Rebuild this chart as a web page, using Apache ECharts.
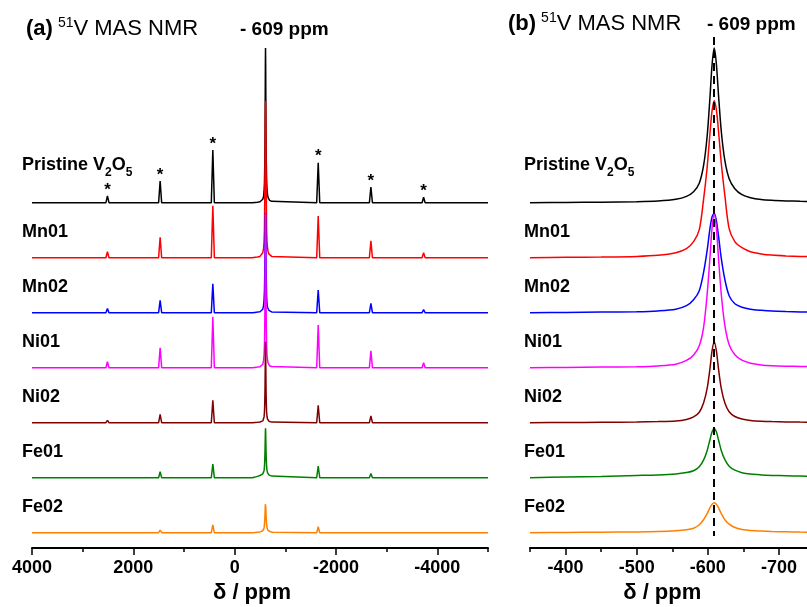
<!DOCTYPE html>
<html>
<head>
<meta charset="utf-8">
<script src="https://cdn.jsdelivr.net/npm/echarts@6/dist/echarts.min.js"></script>
<style>
  html, body { margin: 0; padding: 0; background: #fff; }
  #chart { width: 807px; height: 607px; }
</style>
</head>
<body>
<div id="chart"></div>
<script>
// samples, top to bottom
const samples = ['Pristine V2O5', 'Mn01', 'Mn02', 'Ni01', 'Ni02', 'Fe01', 'Fe02'];
const colors = ['#000000', '#ff0000', '#0000ff', '#ff00ff', '#800000', '#008000', '#ff8000'];

// isotropic peak (ppm)
const peakPpm = -609;

// panel (b): line shape around the isotropic peak (intensity above baseline)
const ppmB = [-350, -400, -450, -500, -530, -555, -570, -580, -588, -594, -599, -603, -606, -609,
  -612, -615, -619, -624, -630, -638, -648, -660, -675, -690, -710, -730, -750];
const pristineB = [0, 0.3, 0.5, 1, 1.7, 3.4, 6.3, 11, 19.5, 37, 66, 105, 138, 154.7, 139, 108, 71, 42, 24, 14, 8, 5, 3.2, 2.4, 1.8, 1.4, 1.2];
const mn01B = [0, 0.4, 0.7, 1.3, 2.4, 5, 9, 16, 28, 58, 90, 124, 147, 157, 148, 127, 94, 62, 29, 16, 10, 6, 3.8, 2.6, 1.8, 1.3, 1];
const mn02B = [0, 0.3, 0.6, 1, 1.8, 3.5, 7, 13, 22, 40, 62, 84, 96, 99.4, 92, 77, 54, 33, 17, 9, 5.5, 3.5, 2.4, 1.6, 1.1, 0.8, 0.6];
const ni01B = [0, 0.3, 0.6, 1, 1.8, 3.5, 7.3, 12.8, 22, 40, 73, 110, 140, 154, 140, 110, 73, 42, 23, 13, 7.5, 4.5, 2.8, 2, 1.5, 1.2, 1];
const ni02B = [0, 0.2, 0.4, 0.7, 1.1, 1.8, 3.3, 5.8, 10.5, 19.7, 34, 54, 72, 81, 72, 54, 34, 19.7, 11, 6.2, 3.7, 2.3, 1.5, 1.1, 0.8, 0.6, 0.5];
const fe01B = [0, 0.6, 1.3, 2.2, 2.8, 3.8, 5.2, 7, 11, 17.5, 27, 38, 46, 49.3, 46, 38, 27, 18, 11.5, 7.5, 5, 3.6, 2.8, 2.3, 1.9, 1.6, 1.3];
const fe02B = [0, 0.2, 0.5, 0.8, 1.2, 2, 3, 4.5, 8, 13, 19, 25, 28.5, 30, 28.5, 25, 19, 13, 8.5, 5.2, 3.3, 2.2, 1.6, 1.2, 0.9, 0.6, 0.4];

// panel (a): spinning sidebands (ppm) and their heights
const sidebandPpm = [3551, 2511, 1471, 431, -1649, -2689, -3729, -4769];
const starred = [2511, 1471, 431, -1649, -2689, -3729];
const pristineSB = [1.5, 6.7, 21.7, 52.7, 40, 15.7, 5.4, 1.7];
const mn01SB = [1.5, 6, 20.4, 52, 41.7, 17, 5, 1.5];
const mn02SB = [1, 4.3, 12.3, 29, 22.7, 9.3, 3, 1];
const ni01SB = [1.5, 6, 20, 51, 42.7, 17, 5, 1.5];
const ni02SB = [0.5, 2.3, 8.3, 22.3, 17.3, 6.7, 2, 0.5];
const fe01SB = [0.5, 2, 6, 13.7, 11.7, 4.3, 1.7, 0];
const fe02SB = [0.3, 0.5, 2.7, 7.7, 6, 2, 0.5, 0];

// axis ticks
const ticksA = [4000, 2000, 0, -2000, -4000];
const minorA = [3000, 1000, -1000, -3000, -5000];
const ticksB = [-400, -500, -600, -700];
const minorB = [-350, -450, -550, -650, -750];

const profiles = [pristineB, mn01B, mn02B, ni01B, ni02B, fe01B, fe02B];
const sidebands = [pristineSB, mn01SB, mn02SB, ni01SB, ni02SB, fe01SB, fe02SB];

// stacking
const offsetStep = 55;
const bottomBase = 15.3;
const sbHalf = 30;
const font = 'Liberation Sans, Arial, Helvetica, sans-serif';

const baseOf = i => bottomBase + (samples.length - 1 - i) * offsetStep;

function richName(name) {
  if (name === 'Pristine V2O5') return '{m|Pristine V}{s|2}{m|O}{s|5}';
  return '{m|' + name + '}';
}

const nameRich = {
  m: { fontSize: 18, fontWeight: 'bold', color: '#000', fontFamily: font, lineHeight: 28, verticalAlign: 'middle' },
  s: { fontSize: 12, fontWeight: 'bold', color: '#000', fontFamily: font, lineHeight: 28, verticalAlign: 'bottom' }
};

function nameMark(i, x, dx) {
  return {
    coord: [x, baseOf(i)],
    label: {
      show: true, position: 'inside', offset: [dx, i === 0 ? -38 : -26],
      align: 'left', verticalAlign: 'middle',
      formatter: () => richName(samples[i]), rich: nameRich
    }
  };
}

function panelA(i) {
  const base = baseOf(i);
  const pts = [[4000, base], [-5000, base]];
  sidebandPpm.forEach((p, k) => {
    pts.push([p + sbHalf, base], [p, base + sidebands[i][k]], [p - sbHalf, base]);
  });
  ppmB.forEach((p, k) => pts.push([p, base + profiles[i][k]]));
  pts.sort((a, b) => b[0] - a[0]);
  return pts;
}

function panelB(i) {
  const base = baseOf(i);
  return ppmB.map((p, k) => [p, base + profiles[i][k]]);
}

const series = [];
samples.forEach((name, i) => {
  const marks = [nameMark(i, 4000, -10)];
  if (i === 0) {
    starred.forEach(p => {
      const k = sidebandPpm.indexOf(p);
      marks.push({
        coord: [p, baseOf(i) + sidebands[i][k]],
        label: { show: true, position: 'top', distance: 0, offset: [0, 3], formatter: '*', fontSize: 17, fontWeight: 'bold', color: '#000', fontFamily: font }
      });
    });
  }
  series.push({
    type: 'line', name: name, xAxisIndex: 0, yAxisIndex: 0,
    data: panelA(i), symbol: 'none', showSymbol: false, silent: true,
    lineStyle: { color: colors[i], width: 1.5 }, itemStyle: { color: colors[i] },
    markPoint: { symbol: 'circle', symbolSize: 1, silent: true, itemStyle: { color: 'rgba(0,0,0,0)' }, data: marks }
  });
});
samples.forEach((name, i) => {
  const s = {
    type: 'line', name: name, xAxisIndex: 2, yAxisIndex: 1,
    data: panelB(i), symbol: 'none', showSymbol: false, silent: true, smooth: 0.3,
    lineStyle: { color: colors[i], width: 1.5 }, itemStyle: { color: colors[i] },
    markPoint: { symbol: 'circle', symbolSize: 1, silent: true, itemStyle: { color: 'rgba(0,0,0,0)' }, data: [nameMark(i, -350, -6)] }
  };
  if (i === samples.length - 1) {
    s.markLine = {
      symbol: 'none', silent: true, label: { show: false },
      lineStyle: { color: '#000', width: 2, type: [8, 5] },
      data: [[{ coord: [peakPpm, 511] }, { coord: [peakPpm, 12] }]]
    };
  }
  series.push(s);
});

function xAxes(grid, min, max, major, minor, namePad) {
  const tickStyle = { color: '#000', width: 1.5 };
  return [{
    type: 'value', gridIndex: grid, min: min, max: max, inverse: true, position: 'bottom',
    name: 'δ / ppm', nameLocation: 'middle', nameGap: 34,
    nameTextStyle: { fontSize: 22, fontWeight: 'bold', color: '#000', fontFamily: font, padding: [0, namePad, 0, 0] },
    axisLine: { show: true, onZero: false, lineStyle: { color: '#000', width: 2 } },
    axisTick: { show: true, customValues: major, length: 7, lineStyle: tickStyle },
    axisLabel: { customValues: major, fontSize: 18, fontWeight: 'bold', color: '#000', fontFamily: font, margin: 11, formatter: v => String(v) },
    splitLine: { show: false }
  }, {
    type: 'value', gridIndex: grid, min: min, max: max, inverse: true, position: 'bottom',
    axisLine: { show: false },
    axisTick: { show: true, customValues: minor, length: 4, lineStyle: tickStyle },
    axisLabel: { show: false },
    splitLine: { show: false }
  }];
}

const titleRich = size => ({
  b: { fontSize: size, fontWeight: 'bold', color: '#000', fontFamily: font, lineHeight: 28 },
  sup: { fontSize: 14, fontWeight: 'normal', color: '#000', fontFamily: font, lineHeight: 28, verticalAlign: 'top', padding: [1, 0, 0, 0] },
  n: { fontSize: size, fontWeight: 'normal', color: '#000', fontFamily: font, lineHeight: 28 }
});

const chart = echarts.init(document.getElementById('chart'));
chart.setOption({
  animation: false,
  backgroundColor: '#fff',
  textStyle: { fontFamily: font },
  title: [
    { text: '{b|(a)} {sup|51}{n|V MAS NMR}', left: 26, top: 15, padding: 0, textStyle: { fontWeight: 'normal', rich: titleRich(22) } },
    { text: '- 609 ppm', left: 240, top: 20, padding: 0, textStyle: { fontSize: 19, fontWeight: 'bold', color: '#000', fontFamily: font } },
    { text: '{b|(b)} {sup|51}{n|V MAS NMR}', left: 508, top: 10, padding: 0, textStyle: { fontWeight: 'normal', rich: titleRich(22) } },
    { text: '- 609 ppm', left: 707, top: 15, padding: 0, textStyle: { fontSize: 19, fontWeight: 'bold', color: '#000', fontFamily: font } }
  ],
  grid: [
    { left: 32, right: 319, top: 28, bottom: 59, outerBoundsMode: 'none' },
    { left: 530, right: -7.5, top: 28, bottom: 59, outerBoundsMode: 'none' }
  ],
  xAxis: [
    ...xAxes(0, -5000, 4000, ticksA, minorA, 16),
    ...xAxes(1, -750, -350, ticksB, minorB, 20)
  ],
  yAxis: [
    { type: 'value', gridIndex: 0, min: 0, max: 520, show: false },
    { type: 'value', gridIndex: 1, min: 0, max: 520, show: false }
  ],
  series: series
});
</script>
</body>
</html>
